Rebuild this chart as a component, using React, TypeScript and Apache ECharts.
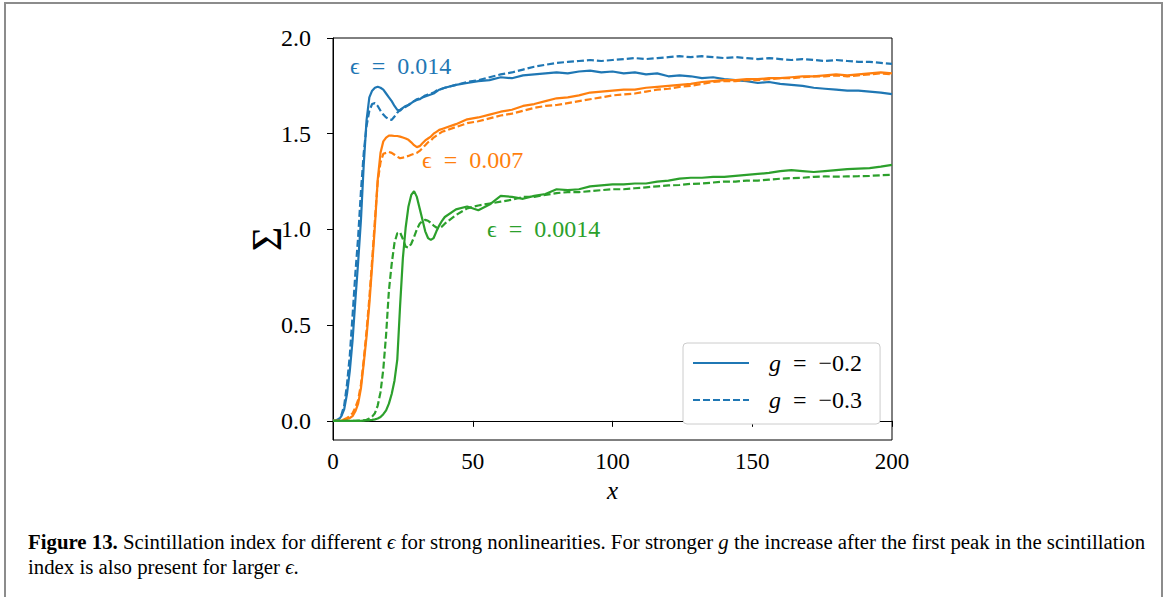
import React, { useEffect, useRef } from "react";
import * as echarts from "echarts";

const X = [0,1,2,3,4,5,6,7,8,9,10,11,12,13,14,15,16,17,18,19,20,21,22,23,24,25,26,27,28,29,30,31,32,33,34,35,36,37,38,39,40,44,48,52,56,60,64,68,72,76,80,84,88,92,96,100,104,108,112,116,120,124,128,132,136,140,144,148,152,156,160,164,168,172,176,180,184,188,192,196,200];

// eps = 0.014, g = -0.2 (solid)
const BLUE_G02 = [0,0,0.005,0.025,0.06,0.14,0.26,0.42,0.63,0.83,
1.05,1.34,1.57,1.69,1.725,1.74,1.745,1.74,1.73,1.71,
1.69,1.67,1.645,1.625,1.62,1.635,1.645,1.65,1.66,1.67,
1.676,1.68,1.69,1.695,1.70,1.705,1.71,1.72,1.73,1.735,
1.74,1.755,1.765,1.775,1.78,1.795,1.79,1.805,1.81,1.815,1.82,1.815,1.825,1.83,1.82,1.825,1.815,1.82,1.81,1.815,1.80,1.805,1.80,1.79,1.795,1.785,1.78,1.775,1.765,1.77,1.76,1.755,1.75,1.74,1.735,1.73,1.725,1.725,1.72,1.715,1.707];
// eps = 0.014, g = -0.3 (dashed)
const BLUE_G03 = [0,0.002,0.01,0.03,0.08,0.19,0.34,0.55,0.77,0.96,
1.20,1.40,1.54,1.62,1.655,1.66,1.645,1.62,1.60,1.585,
1.575,1.572,1.59,1.61,1.625,1.635,1.64,1.65,1.66,1.67,
1.68,1.685,1.69,1.70,1.705,1.71,1.715,1.725,1.73,1.735,
1.74,1.755,1.77,1.78,1.795,1.81,1.82,1.835,1.85,1.86,1.87,1.875,1.88,1.885,1.88,1.885,1.89,1.895,1.89,1.895,1.90,1.905,1.90,1.905,1.90,1.895,1.90,1.895,1.89,1.895,1.89,1.885,1.89,1.885,1.88,1.885,1.88,1.875,1.875,1.87,1.865];
// eps = 0.007
const ORANGE_G02 = [0,0,0,0.002,0.005,0.01,0.015,0.025,0.05,0.09,
0.17,0.30,0.44,0.61,0.81,1.02,1.26,1.40,1.46,1.48,
1.49,1.49,1.488,1.488,1.485,1.48,1.475,1.468,1.455,1.44,
1.43,1.435,1.45,1.465,1.475,1.485,1.50,1.51,1.52,1.525,
1.53,1.55,1.575,1.585,1.60,1.615,1.625,1.645,1.655,1.67,1.685,1.69,1.70,1.715,1.72,1.725,1.73,1.73,1.74,1.745,1.75,1.755,1.76,1.77,1.775,1.78,1.78,1.785,1.785,1.79,1.79,1.795,1.80,1.80,1.805,1.81,1.805,1.81,1.815,1.82,1.815];
const ORANGE_G03 = [0,0,0,0.003,0.008,0.015,0.025,0.04,0.07,0.11,
0.19,0.32,0.47,0.64,0.84,1.05,1.25,1.35,1.395,1.40,
1.405,1.40,1.39,1.38,1.372,1.375,1.38,1.384,1.39,1.395,
1.40,1.41,1.425,1.44,1.455,1.465,1.48,1.49,1.50,1.51,
1.515,1.535,1.555,1.565,1.58,1.595,1.605,1.62,1.635,1.645,1.65,1.66,1.67,1.68,1.69,1.70,1.705,1.71,1.72,1.73,1.735,1.745,1.75,1.76,1.77,1.775,1.775,1.78,1.78,1.785,1.79,1.79,1.795,1.80,1.80,1.805,1.80,1.805,1.81,1.815,1.81];
// eps = 0.0014
const GREEN_G02 = [0,0,0,0,0,0,0,0,0,0,
0,0.001,0.002,0.003,0.005,0.008,0.012,0.02,0.035,0.055,
0.09,0.14,0.21,0.32,0.60,0.85,1.01,1.12,1.18,1.20,
1.17,1.11,1.05,0.99,0.955,0.945,0.955,0.99,1.02,1.045,
1.065,1.105,1.12,1.10,1.13,1.175,1.17,1.16,1.175,1.185,1.21,1.205,1.21,1.225,1.23,1.235,1.235,1.24,1.24,1.25,1.255,1.265,1.27,1.27,1.275,1.275,1.28,1.285,1.29,1.295,1.305,1.31,1.305,1.30,1.305,1.31,1.315,1.318,1.32,1.328,1.337];
const GREEN_G03 = [0,0,0,0,0,0,0,0,0,0.001,
0.002,0.003,0.006,0.012,0.022,0.04,0.08,0.15,0.27,0.45,
0.68,0.82,0.93,0.98,0.985,0.95,0.91,0.905,0.925,0.96,
1.0,1.03,1.045,1.05,1.045,1.035,1.02,1.01,1.006,1.015,
1.03,1.075,1.11,1.125,1.135,1.145,1.155,1.17,1.17,1.18,1.19,1.195,1.195,1.20,1.205,1.21,1.21,1.215,1.22,1.225,1.23,1.232,1.238,1.24,1.245,1.25,1.25,1.255,1.255,1.26,1.265,1.268,1.27,1.275,1.277,1.276,1.277,1.278,1.28,1.283,1.285];

const Y_TICKS = [0, 0.5, 1.0, 1.5, 2.0];
const LEGEND_NAMES = ["g = \u22120.2", "g = \u22120.3"];
const EPS_LABELS = ["\u03f5\u2002=\u20020.014", "\u03f5\u2002=\u20020.007", "\u03f5\u2002=\u20020.0014"];

const BLUE = "#1f77b4";
const ORANGE = "#ff7f0e";
const GREEN = "#2ca02c";
const SERIF = "'Liberation Serif', 'DejaVu Serif', serif";

export default function App() {
  const ref = useRef<HTMLDivElement>(null);
  useEffect(() => {
    const chart = echarts.init(ref.current!, null, { renderer: "svg" });
    const mk = (name: string, ys: number[], color: string, dashed: boolean) => ({
      type: "line",
      name,
      data: X.map((x, i) => [x, ys[i]]),
      symbol: "none",
      showSymbol: false,
      lineStyle: { color, width: 2.2, type: dashed ? [7, 3] : "solid" },
      itemStyle: { color },
      emphasis: { disabled: true },
    });
    chart.setOption({
      animation: false,
      backgroundColor: "#fff",
      grid: { left: 333, top: 38, width: 559, height: 402, show: true, borderColor: "#000", borderWidth: 1, backgroundColor: "transparent" },
      xAxis: {
        type: "value", min: 0, max: 200, interval: 50,
        name: "x", nameLocation: "middle", nameGap: 38, nameMoveOverlap: false,
        nameTextStyle: { fontFamily: SERIF, fontStyle: "italic", fontSize: 25, color: "#000" },
        axisLine: { lineStyle: { color: "#000", width: 1 } },
        axisTick: { length: 6, lineStyle: { color: "#000" } },
        axisLabel: { margin: 10, fontFamily: SERIF, fontSize: 23, color: "#000" },
        splitLine: { show: false },
      },
      yAxis: {
        type: "value", min: -0.1, max: 2.0,
        name: "\u03a3", nameLocation: "middle", nameGap: 45, nameRotate: 90, nameMoveOverlap: false,
        nameTextStyle: { fontFamily: SERIF, fontSize: 42, color: "#000" },
        axisLine: { show: true, lineStyle: { color: "#000", width: 1 } },
        axisTick: { show: true, length: 6, customValues: Y_TICKS, lineStyle: { color: "#000" } },
        axisLabel: { margin: 22, customValues: Y_TICKS, fontFamily: SERIF, fontSize: 24, color: "#000", formatter: (v: number) => v.toFixed(1) },
        splitLine: { show: false },
      },
      legend: {
        data: LEGEND_NAMES,
        orient: "vertical", left: 683, top: 343,
        itemWidth: 56, itemHeight: 14, itemGap: 9,
        padding: [6, 18, 10, 9],
        backgroundColor: "#fff", borderColor: "#cccccc", borderWidth: 1, borderRadius: 4,
        selectedMode: false,
        itemStyle: { opacity: 0 },
        formatter: (n: string) => "{s|}{i|g}\u2002=\u2002" + n.slice(4),
        textStyle: {
          fontFamily: SERIF, fontSize: 24, color: "#000", lineHeight: 28,
          rich: { s: { width: 15 }, i: { fontStyle: "italic", fontFamily: SERIF, fontSize: 24 } },
        },
      },
      graphic: [
        { type: "rect", silent: true, shape: { x: 5, y: 3, width: 1157, height: 700 }, style: { fill: "none", stroke: "#8c8c8c", lineWidth: 2 } },
        { type: "text", x: 350, y: 66, style: { text: EPS_LABELS[0], fill: BLUE, font: `24px ${SERIF}`, verticalAlign: "middle" } },
        { type: "text", x: 422, y: 160, style: { text: EPS_LABELS[1], fill: ORANGE, font: `24px ${SERIF}`, verticalAlign: "middle" } },
        { type: "text", x: 487, y: 229, style: { text: EPS_LABELS[2], fill: GREEN, font: `24px ${SERIF}`, verticalAlign: "middle" } },
        {
          type: "text", x: 28, y: 541,
          style: {
            text: "{b|Figure 13.} Scintillation index for different {i|\u03f5} for strong nonlinearities. For stronger {i|g} the increase after the first peak in the scintillation",
            fill: "#000", font: `20.8px ${SERIF}`, verticalAlign: "middle",
            rich: { b: { fontWeight: "bold", fontFamily: SERIF, fontSize: 20.8 }, i: { fontStyle: "italic", fontFamily: SERIF, fontSize: 20.8 } },
          },
        },
        {
          type: "text", x: 28, y: 566,
          style: {
            text: "index is also present for larger {i|\u03f5}.",
            fill: "#000", font: `20.8px ${SERIF}`, verticalAlign: "middle",
            rich: { i: { fontStyle: "italic", fontFamily: SERIF, fontSize: 20.8 } },
          },
        },
      ],
      series: [
        mk(LEGEND_NAMES[0], BLUE_G02, BLUE, false),
        mk(LEGEND_NAMES[1], BLUE_G03, BLUE, true),
        mk("\u03f5 = 0.007, g = \u22120.2", ORANGE_G02, ORANGE, false),
        mk("\u03f5 = 0.007, g = \u22120.3", ORANGE_G03, ORANGE, true),
        mk("\u03f5 = 0.0014, g = \u22120.2", GREEN_G02, GREEN, false),
        mk("\u03f5 = 0.0014, g = \u22120.3", GREEN_G03, GREEN, true),
      ],
    });
    return () => chart.dispose();
  }, []);
  return <div ref={ref} style={{ position: "fixed", left: 0, top: 0, width: 1168, height: 597, background: "#fff" }} />;
}
